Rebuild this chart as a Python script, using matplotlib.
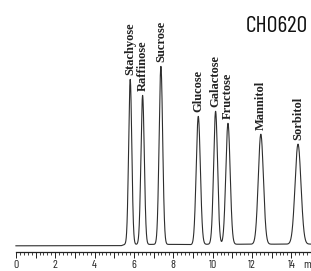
import numpy as np
import matplotlib
matplotlib.use("Agg")
import matplotlib.pyplot as plt

# Peak data (retention time in min, height, width)
names = ["Stachyose", "Raffinose", "Sucrose", "Glucose",
         "Galactose", "Fructose", "Mannitol", "Sorbitol"]
rt = [5.81, 6.44, 7.37, 9.27, 10.15, 10.78, 12.45, 14.34]
height = [165, 149, 178, 128, 133, 121, 110, 100]
sigma = [0.08, 0.085, 0.09, 0.105, 0.1, 0.11, 0.13, 0.15]

# baseline drift (time, level)
base_t = [0.0, 5.35, 5.55, 8.8, 9.0, 9.3, 15.0]
base_y = [6.5, 6.6, 7.9, 7.9, 7.2, 8.0, 8.2]

tick_pos = list(range(0, 15))
tick_labels = ["0", "", "2", "", "4", "", "6", "", "8", "", "10", "", "12", "", "14"]

narrow = ["Barlow Condensed", "DejaVu Sans"]

t = np.linspace(0.0, 15.0, 4000)
signal = np.interp(t, base_t, base_y)
for r, h, s in zip(rt, height, sigma):
    signal = signal + h * np.exp(-0.5 * ((t - r) / s) ** 2)

fig = plt.figure(figsize=(3.11, 2.71), dpi=100)
ax = fig.add_axes([0, 0.069, 1, 0.931])
ax.set_xlim(-0.809, 14.91)
ax.set_ylim(0, 252.3)

ax.plot(t, signal, color="#2e2e2e", lw=0.8)

for n, r, h in zip(names, rt, height):
    top = np.interp(r, base_t, base_y) + h
    ax.annotate(n, xy=(r, top), xytext=(0, 3), textcoords="offset points",
                rotation=90, ha="center", va="bottom",
                family=["Liberation Serif", "DejaVu Serif"], fontweight="bold",
                fontsize=9, color="#222222")

for sp in ["top", "right", "left"]:
    ax.spines[sp].set_visible(False)
ax.spines["bottom"].set_bounds(0, 15)
ax.spines["bottom"].set_linewidth(0.9)
ax.spines["bottom"].set_color("#222222")
ax.set_yticks([])
ax.set_xticks(tick_pos)
ax.set_xticklabels(tick_labels)
ax.set_xticks(np.arange(0, 15.01, 0.2), minor=True)
ax.tick_params(axis="x", which="major", length=4.2, width=0.7, pad=1.6,
               labelsize=8.5, colors="#222222")
ax.tick_params(axis="x", which="minor", length=2.4, width=0.6, colors="#222222")
for lab in ax.get_xticklabels():
    lab.set_family(narrow)

# unit after the last tick label
ax.annotate("min", xy=(14.6, 0), xycoords=("data", "axes fraction"),
            xytext=(0, -5.8), textcoords="offset points", ha="left", va="top",
            fontsize=8.5, color="#222222", family=narrow)

fig.text(246 / 311, 1 - 16 / 271, "CHO620", ha="left", va="top",
         fontsize=17, color="#111111", family=narrow)

fig.savefig("out.png", dpi=100, facecolor="white")
